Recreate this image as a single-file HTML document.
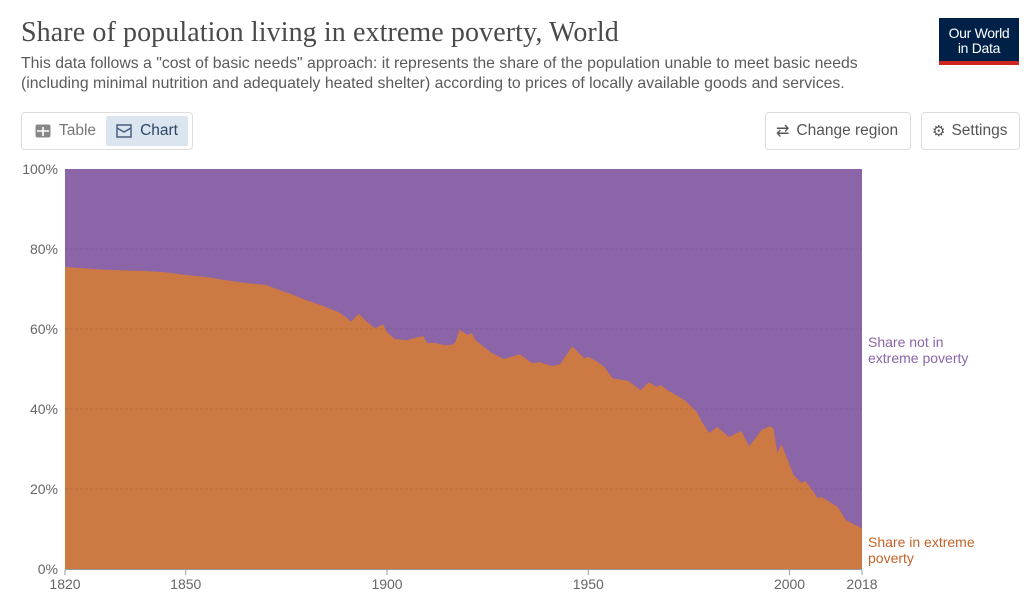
<!DOCTYPE html>
<html><head><meta charset="utf-8">
<style>
body{margin:0;width:1036px;height:598px;background:#fff;font-family:"Liberation Sans",sans-serif;position:relative;overflow:hidden}
.abs{position:absolute}
.title{left:21px;top:17px;font-family:"Liberation Serif",serif;font-size:28px;color:#4a4a4a;letter-spacing:0.1px}
.sub{left:21px;top:54px;font-size:15.8px;color:#5b5b5b;line-height:19.5px;width:920px;white-space:nowrap}
.logo{left:939px;top:18px;width:80px;height:47px;background:#002147;color:#fff;font-size:14px;line-height:15px;text-align:center;box-sizing:border-box;padding-top:8px;border-bottom:4px solid #ce261e;letter-spacing:-0.3px}
.btn{border:1px solid #ddd;border-radius:4px;height:38px;box-sizing:border-box;font-size:15.5px;color:#555;display:flex;align-items:center}
</style></head><body>
<div class="abs title">Share of population living in extreme poverty, World</div>
<div class="abs sub">This data follows a "cost of basic needs" approach: it represents the share of the population unable to meet basic needs<br>(including minimal nutrition and adequately heated shelter) according to prices of locally available goods and services.</div>
<div class="abs logo">Our World<br>in Data</div>
<div class="abs btn" style="left:21px;top:112px;width:172px;padding:3px">
 <div style="display:flex;align-items:center;height:100%;padding:0 10px;color:#777"><svg width="16" height="14" style="margin-right:8px"><rect x="0.5" y="0.5" width="15" height="13" rx="2" fill="#888"/><path d="M2 7h12M8 3v9" stroke="#fff" stroke-width="1.6"/></svg>Table</div>
 <div style="display:flex;align-items:center;height:100%;padding:0 10px;background:#dbe5f0;color:#2e4563;border-radius:2px"><svg width="16" height="14" style="margin-right:8px"><rect x="1" y="1" width="14" height="12" fill="none" stroke="#4a6080" stroke-width="1.5"/><path d="M1 4l7 4 7-4" fill="none" stroke="#4a6080" stroke-width="1.5"/></svg>Chart</div>
</div>
<div class="abs btn" style="left:765px;top:112px;width:146px;padding-left:10px"><span style="margin-right:7px;font-size:16px">⇄</span>Change region</div>
<div class="abs btn" style="left:921px;top:112px;width:99px;padding-left:10px"><span style="margin-right:6px;font-size:15px">⚙</span>Settings</div>
<svg id="chart" class="abs" style="left:0;top:0" width="1036" height="598"></svg>
<script>
const years=[1820,1830,1840,1845,1850,1855,1860,1865,1870,1873,1876,1880,1884,1888,1890,1891,1893,1895,1897,1899,1900,1902,1905,1907,1909,1910,1912,1914,1916,1917,1918,1920,1921,1922,1926,1929,1933,1936,1938,1941,1943,1946,1949,1950,1952,1954,1956,1959,1960,1963,1965,1967,1968,1970,1974,1977,1978,1980,1982,1985,1988,1990,1993,1995,1996,1997,1998,2001,2003,2004,2006,2007,2008,2012,2014,2018];
const poverty=[75.5,74.8,74.5,74.2,73.5,73,72.2,71.5,71,69.8,68.8,67.2,65.8,64.2,62.8,61.8,63.8,61.8,60.2,61.2,59.2,57.5,57.2,57.8,58.2,56.5,56.5,56,56,56.7,59.8,58.5,59,57.2,54,52.5,53.7,51.5,51.7,50.7,51.2,55.7,52.7,53,52,50.5,47.7,47.2,47,44.7,46.7,45.5,46,44.5,42.2,39.2,37.2,34,35.5,33,34.5,30.7,34.7,35.7,35.2,29,31.2,23.5,21.5,22,19.2,17.7,18,15.5,12.2,10.2];
const yTicks=[0,20,40,60,80,100];
const xTicks=[1820,1850,1900,1950,2000,2018];
const NS="http://www.w3.org/2000/svg";
const svg=document.getElementById('chart');
const X=y=>65+(y-1820)*(862-65)/198;
const Y=v=>569-v*4;
function mk(t,a){const e=document.createElementNS(NS,t);for(const k in a)e.setAttribute(k,a[k]);svg.appendChild(e);return e;}
const bgArea=mk('rect',{x:X(1820),y:Y(100),width:X(2018)-X(1820),height:400,fill:'#8c65a8'});


let d='M'+X(years[0])+','+Y(0);
years.forEach((yr,i)=>{d+='L'+X(yr).toFixed(1)+','+Y(poverty[i]).toFixed(1);});
d+='L'+X(years[years.length-1])+','+Y(0)+'Z';
const pArea=mk('path',{d:d,fill:'#cc7944'});


yTicks.forEach(v=>{
 if(v>0&&v<100){const g=mk('line',{x1:65,x2:862,y1:Y(v),y2:Y(v),stroke:'#000','stroke-opacity':0.08,'stroke-dasharray':'3,2'});
 
 }
 const t=mk('text',{x:58,y:Y(v)+5,'text-anchor':'end','font-size':14,fill:'#666','font-family':'Liberation Sans, sans-serif'});
 t.textContent=v+'%';
 
 
});
const ax=mk('line',{x1:65,x2:862,y1:569.5,y2:569.5,stroke:'#999'});


xTicks.forEach(yr=>{
 const tk=mk('line',{x1:X(yr),x2:X(yr),y1:570,y2:575,stroke:'#999'});
 
 
 const t=mk('text',{x:X(yr),y:589,'text-anchor':'middle','font-size':14,fill:'#666','font-family':'Liberation Sans, sans-serif'});
 t.textContent=yr;
 
 
});
function lab(lines,y0,col,name){lines.forEach((s,i)=>{const t=mk('text',{x:868,y:y0+i*16,'font-size':14,fill:col,'font-family':'Liberation Sans, sans-serif'});t.textContent=s;
 
 });}
lab(['Share not in','extreme poverty'],347,'#8c65a8','legend-not-in-poverty');
lab(['Share in extreme','poverty'],547,'#c4622a','legend-in-poverty');
</script>
</body></html>
